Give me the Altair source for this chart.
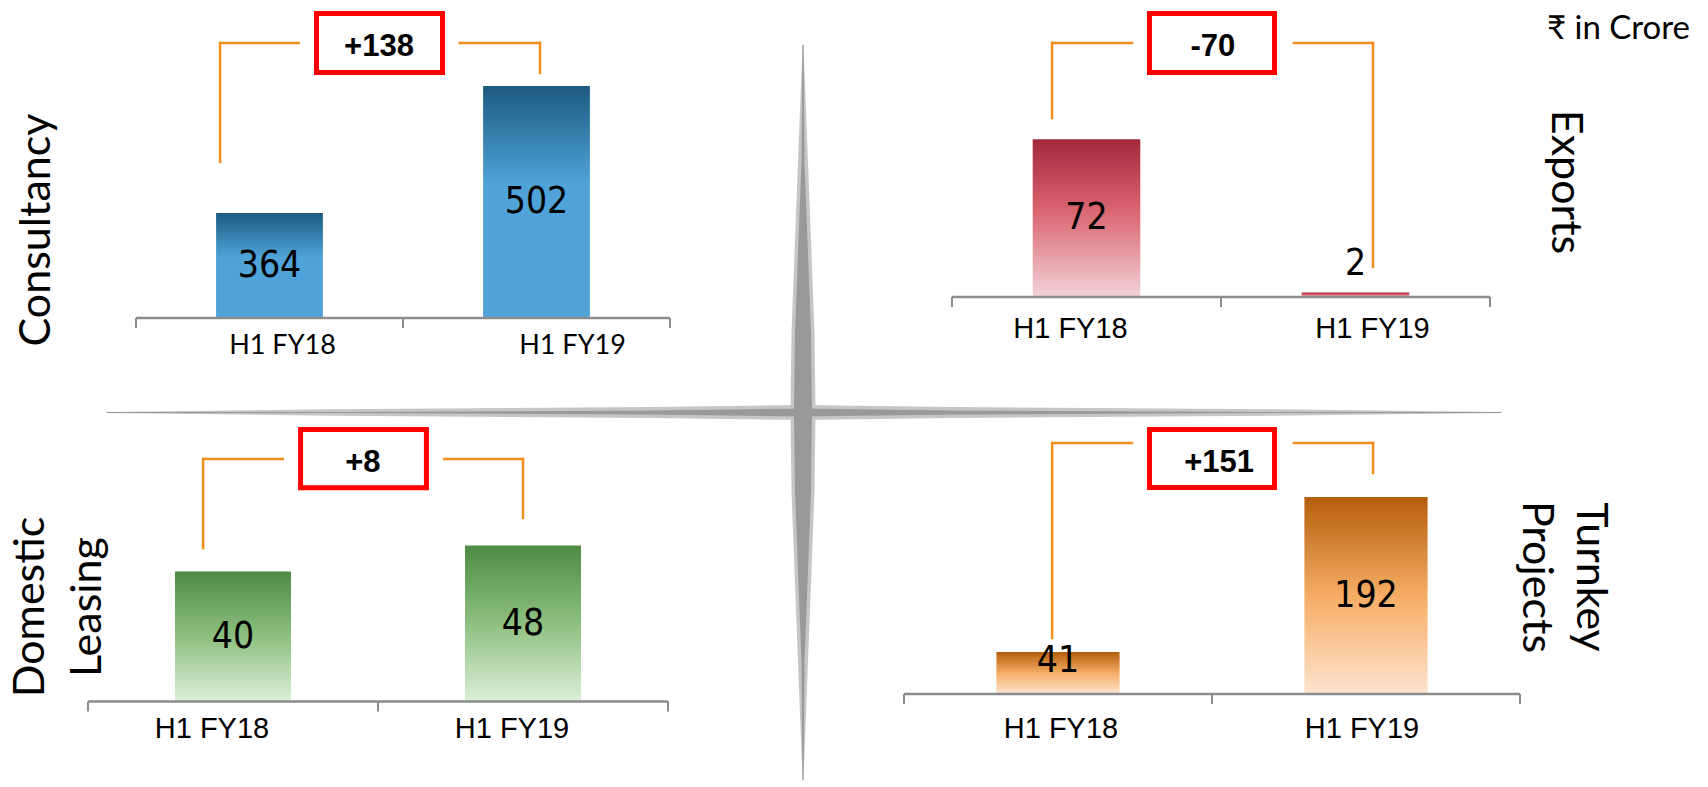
import altair as alt
import pandas as pd

# ---------------- data ----------------
periods = ["H1 FY18", "H1 FY19"]
consultancy = [364, 502]
exports = [72, 2]
leasing = [40, 48]
turnkey = [41, 192]
changes = ["+138", "-70", "+8", "+151"]
segment_titles = [["Consultancy"], ["Exports"], ["Domestic", "Leasing"], ["Turnkey", "Projects"]]
unit_note = "₹ in Crore"

W, H = 1708, 787
ORANGE = "#f28e1c"
AXIS_GREY = "#8c8c8c"
NUM_FONT = "Liberation Sans Narrow, Arial Narrow, DejaVu Sans Condensed, Liberation Sans, sans-serif"
CAT_FONT = "Liberation Sans, Arial, sans-serif"
TITLE_FONT = "Lato, Open Sans, sans-serif"

# ---------------- layout (per panel) ----------------
# xr: pixel range of the category axis, baseline: pixel of value "base",
# k: pixels per unit.  Annotation geometry is given in data units.
panels = [
    dict(values=consultancy, change=changes[0], xr=[136, 670], baseline=318, base=250, k=0.9203,
         grad=[(0, "#1d5a80"), (0.42, "#4fa3d8"), (1, "#4fa3d8")],
         cat_font="Lato, sans-serif", cat_size=27, cat_dx=[13, 36], cat_dy=28,
         left=(0.315, 419.5), right=(1.513, 516.2), level=548.8, gap=(0.610, 1.213),
         box_x=(0.676, 1.148), box_y=(516.8, 580.9), box_t=(0.910, 544.5)),
    dict(values=exports, change=changes[1], xr=[952, 1490], baseline=297, base=0, k=2.19,
         grad=[(0, "#a2283b"), (0.45, "#d9656f"), (1, "#f3d2d7")],
         cat_font=CAT_FONT, cat_size=29, cat_dx=[-16, 17], cat_dy=32,
         left=(0.372, 81.7), right=(1.565, 13.7), level=116.0, gap=(0.669, 1.271),
         box_x=(0.734, 1.199), box_y=(102.5, 129.5), box_t=(0.970, 114.2)),
    dict(values=leasing, change=changes[2], xr=[88, 668], baseline=701.5, base=0, k=3.25,
         grad=[(0, "#4e8a43"), (0.5, "#8dc080"), (1, "#dcefd7")],
         cat_font=CAT_FONT, cat_size=29, cat_dx=[-21, -11], cat_dy=27,
         left=(0.397, 47.2), right=(1.500, 56.5), level=74.6, gap=(0.672, 1.228),
         box_x=(0.733, 1.167), box_y=(65.8, 83.7), box_t=(0.948, 73.4)),
    dict(values=turnkey, change=changes[3], xr=[904, 1520], baseline=694, base=0, k=1.026,
         grad=[(0, "#b45e0c"), (0.5, "#f5ad64"), (1, "#fde4cf")],
         cat_font=CAT_FONT, cat_size=29, cat_dx=[3, -4], cat_dy=35,
         left=(0.481, 54.6), right=(1.523, 215.4), level=244.6, gap=(0.740, 1.266),
         box_x=(0.797, 1.203), box_y=(201.3, 257.8), box_t=(1.023, 225.1)),
]


def make_panel(p):
    vals, base, k = p["values"], p["base"], p["k"]
    unit_px = (p["xr"][1] - p["xr"][0]) / 2.0
    xs = alt.Scale(domain=[0, 2], range=p["xr"], nice=False, zero=False)
    ys = alt.Scale(domain=[base, base + p["baseline"] / k], range=[p["baseline"], 0],
                   nice=False, zero=False)

    def X(f):
        return alt.X(f, type="quantitative", scale=xs, axis=None)

    def Y(f):
        return alt.Y(f, type="quantitative", scale=ys, axis=None)

    bars = pd.DataFrame({
        "period": periods,
        "value": vals,
        "x0": [i + 0.3 for i in range(len(vals))],
        "x1": [i + 0.7 for i in range(len(vals))],
        "xc": [i + 0.5 for i in range(len(vals))],
        "b": [base] * len(vals),
        "lv": [base + max((v - base) / 2.0, 33.0 / k) for v in vals],
        "label": [str(v) for v in vals],
    })
    grad = alt.LinearGradient(
        gradient="linear",
        stops=[alt.GradientStop(offset=o, color=c) for o, c in p["grad"]],
        x1=0, x2=0, y1=0, y2=1,
    )
    bar_layer = alt.Chart(bars).mark_bar(color=grad).encode(
        x=X("x0"), x2=alt.X2("x1"), y=Y("value"), y2=alt.Y2("b"))
    val_layer = alt.Chart(bars).mark_text(
        font=NUM_FONT, fontSize=37, color="black", baseline="middle", align="center"
    ).encode(x=X("xc"), y=Y("lv"), text="label:N")

    axis_df = pd.DataFrame({"x": [0], "x2": [2], "y": [base]})
    axis_layer = alt.Chart(axis_df).mark_rule(color=AXIS_GREY, strokeWidth=2.3).encode(
        x=X("x"), x2=alt.X2("x2"), y=Y("y"))
    ticks_df = pd.DataFrame({"x": [0, 1, 2], "y": [base] * 3, "y2": [base - 10.0 / k] * 3})
    ticks_layer = alt.Chart(ticks_df).mark_rule(color=AXIS_GREY, strokeWidth=2).encode(
        x=X("x"), y=Y("y"), y2=alt.Y2("y2"))

    cats = pd.DataFrame({
        "period": periods,
        "lx": [i + 0.5 + p["cat_dx"][i] / unit_px for i in range(len(periods))],
        "ly": [base - p["cat_dy"] / k] * len(periods),
    })
    cat_layer = alt.Chart(cats).mark_text(
        font=p["cat_font"], fontSize=p["cat_size"], color="black", baseline="middle"
    ).encode(x=X("lx"), y=Y("ly"), text="period:N")

    (lx, lb), (rx, rb), lev, (g1, g2) = p["left"], p["right"], p["level"], p["gap"]
    br = pd.DataFrame({
        "x": [lx, lx, g2, rx],
        "x2": [lx, g1, rx, rx],
        "y": [lb, lev, lev, lev],
        "y2": [lev, lev, lev, rb],
    })
    br_layer = alt.Chart(br).mark_rule(color=ORANGE, strokeWidth=2.5, strokeCap="square").encode(
        x=X("x"), x2=alt.X2("x2"), y=Y("y"), y2=alt.Y2("y2"))

    box = pd.DataFrame({"x": [p["box_x"][0]], "x2": [p["box_x"][1]],
                        "y": [p["box_y"][0]], "y2": [p["box_y"][1]]})
    box_layer = alt.Chart(box).mark_rect(fill="white", stroke="#ff0000", strokeWidth=5).encode(
        x=X("x"), x2=alt.X2("x2"), y=Y("y"), y2=alt.Y2("y2"))
    bt = pd.DataFrame({"x": [p["box_t"][0]], "y": [p["box_t"][1]], "t": [p["change"]]})
    bt_layer = alt.Chart(bt).mark_text(
        font="Liberation Sans, Arial, sans-serif", fontSize=31, fontWeight="bold",
        color="black", baseline="middle", align="center"
    ).encode(x=X("x"), y=Y("y"), text="t:N")

    return alt.layer(bar_layer, val_layer, axis_layer, ticks_layer, cat_layer,
                     br_layer, box_layer, bt_layer)


# ---------------- decorative grey star ----------------
star_v_y = [45, 162, 332, 412, 492, 662, 780]
star_v_w = [0, 10, 23, 25, 23, 10, 0]
star_h_x = [107, 333, 653, 803, 953, 1273, 1501]
star_h_w = [0, 6.5, 11, 15, 11, 6.5, 0]
rows = []
for i, (yy, ww) in enumerate(zip(star_v_y, star_v_w)):
    rows.append(dict(arm="v", o=i, x=803, y=yy, w=ww, wc=max(ww - 7, 0)))
for i, (xx, ww) in enumerate(zip(star_h_x, star_h_w)):
    rows.append(dict(arm="h", o=i, x=xx, y=412.5, w=ww, wc=max(ww - 7, 0)))
star_df = pd.DataFrame(rows)
sx = alt.Scale(domain=[0, W], range=[0, W], nice=False, zero=False)
sy = alt.Scale(domain=[0, H], range=[0, H], nice=False, zero=False)
star_base = alt.Chart(star_df).encode(
    x=alt.X("x:Q", scale=sx, axis=None),
    y=alt.Y("y:Q", scale=sy, axis=None),
    detail="arm:N",
    order=alt.Order("o:Q"),
)
star = alt.layer(
    star_base.mark_trail(color="#c6c6c6").encode(size=alt.Size("w:Q", scale=None, legend=None)),
    star_base.mark_trail(color="#999999").encode(size=alt.Size("wc:Q", scale=None, legend=None)),
)

# ---------------- titles ----------------
one = pd.DataFrame({"d": [0]})


def title(text, x, y, angle, lh=46):
    return alt.Chart(one).mark_text(
        font=TITLE_FONT, fontSize=43, color="black", angle=angle, align="center",
        baseline="middle", lineHeight=lh
    ).encode(x=alt.value(x), y=alt.value(y), text=alt.value(text))


titles = [
    title(segment_titles[0], 37, 230, 270),
    title(segment_titles[1], 1565, 182, 90),
    title(segment_titles[2], 31, 607, 270, 57),
    title(segment_titles[3], 1590, 577, 90, 54),
]
note = alt.Chart(one).mark_text(
    font=TITLE_FONT, fontSize=33, color="black", align="right", baseline="middle"
).encode(x=alt.value(1690), y=alt.value(29), text=alt.value(unit_note))

chart = alt.layer(
    star, *[make_panel(p) for p in panels], *titles, note
).resolve_scale(x="independent", y="independent").properties(
    width=W, height=H, padding=0,
    autosize=alt.AutoSizeParams(type="none"),
    background="white",
).configure_view(stroke=None)

chart.save("out.html", embed_options={"renderer": "svg", "actions": False})
